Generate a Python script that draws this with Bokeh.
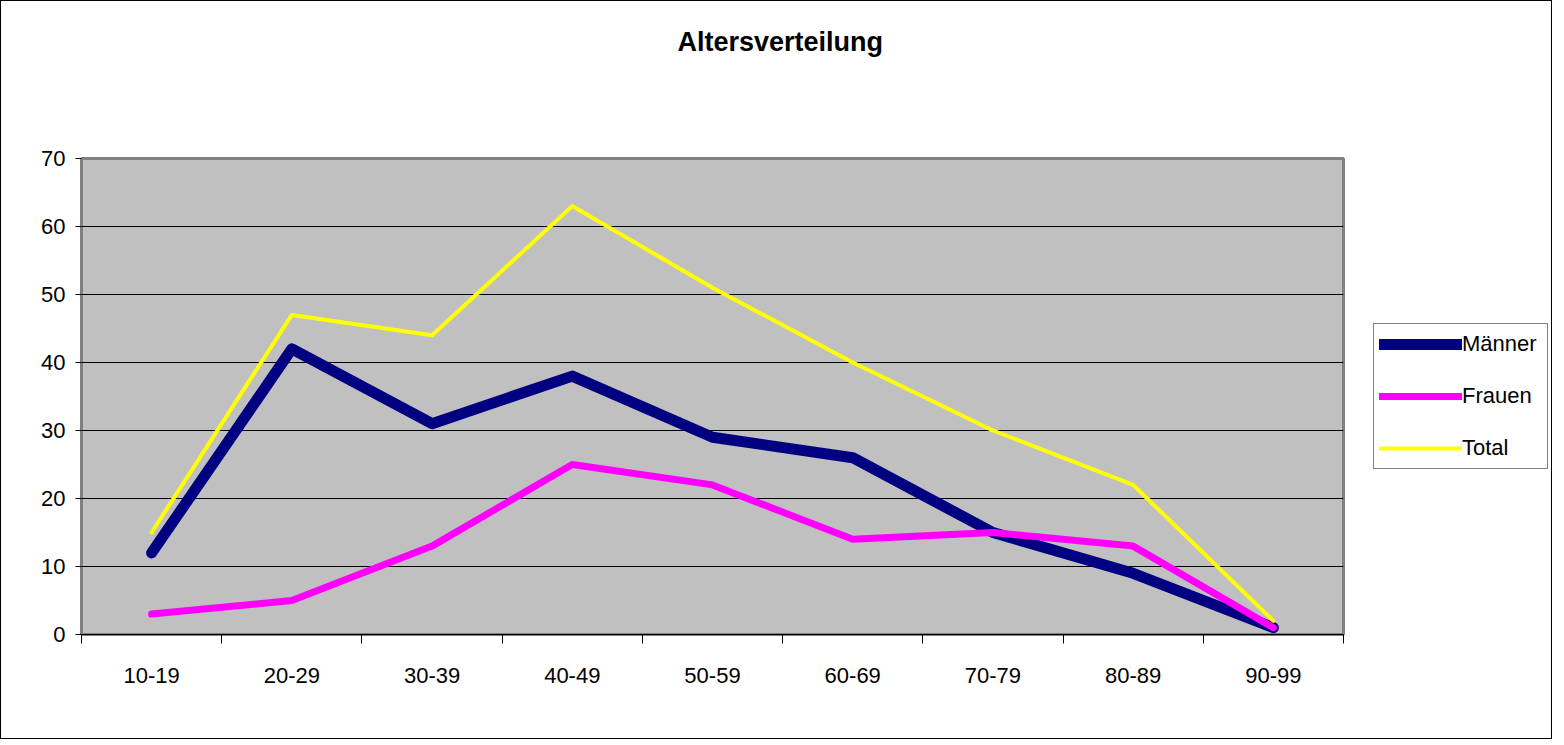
import numpy as np
from bokeh.plotting import figure
from bokeh.layouts import row
from bokeh.models import Range1d, FixedTicker, Legend, LegendItem, ColumnDataSource
from bokeh.embed import file_html
from bokeh.resources import INLINE

# ---- data ----
categories = ["10-19", "20-29", "30-39", "40-49", "50-59", "60-69", "70-79", "80-89", "90-99"]
maenner = [12, 42, 31, 38, 29, 26, 15, 9, 1]
frauen = [3, 5, 13, 25, 22, 14, 15, 13, 1]
total = [15, 47, 44, 63, 51, 40, 30, 22, 2]
y_ticks = [0, 10, 20, 30, 40, 50, 60, 70]
series_names = ["Männer", "Frauen", "Total"]
title_text = "Altersverteilung"

x_pos = [float(v) for v in (np.arange(len(categories)) + 0.5)]
source = ColumnDataSource(dict(x=x_pos, maenner=maenner, frauen=frauen, total=total))

FONT = "Liberation Sans"
STYLES = [dict(line_color="#000080", line_width=11),
          dict(line_color="#FF00FF", line_width=7),
          dict(line_color="#FFFF00", line_width=4)]

p = figure(width=1344, height=737, output_backend="svg", toolbar_location=None,
           x_range=Range1d(0, len(categories)), y_range=Range1d(y_ticks[0], y_ticks[-1]),
           min_border_left=80, min_border_right=2, min_border_top=157, min_border_bottom=104)

p.background_fill_color = "#C0C0C0"
p.border_fill_color = "white"
p.outline_line_color = "#808080"
p.outline_line_width = 3

# title (trailing blank lines lift it well above the frame)
p.title.text = title_text + "\n\n\n"
p.title.align = "left"
p.title.offset = 596
p.title.standoff = 24
p.title.text_font = FONT
p.title.text_font_size = "27px"
p.title.text_font_style = "bold"
p.title.text_color = "black"

# lines
for col, st in zip(["maenner", "frauen", "total"], STYLES):
    p.line("x", col, source=source, line_join="round", line_cap="round", **st)

# y axis
yax = p.yaxis[0]
yax.ticker = FixedTicker(ticks=y_ticks)
yax.axis_line_color = None
yax.major_tick_out = 6
yax.major_tick_in = 0
yax.minor_tick_out = 0
yax.minor_tick_in = 0
yax.major_tick_line_color = "black"
yax.major_label_standoff = 10
yax.major_label_text_font = FONT
yax.major_label_text_font_size = "22px"
yax.major_label_text_color = "black"

# x axis: labels at category centres, tick marks at category boundaries
xax = p.xaxis[0]
xax.ticker = FixedTicker(ticks=x_pos, minor_ticks=[float(v) for v in range(len(categories) + 1)])
xax.major_label_overrides = {xp: c for xp, c in zip(x_pos, categories)}
xax.axis_line_color = "black"
xax.axis_line_width = 1
xax.major_tick_out = 0
xax.major_tick_in = 0
xax.minor_tick_out = 9
xax.minor_tick_in = 0
xax.minor_tick_line_color = "black"
xax.major_label_standoff = 24
xax.major_label_text_font = FONT
xax.major_label_text_font_size = "22px"
xax.major_label_text_color = "black"

p.xgrid.visible = False
p.ygrid.ticker = FixedTicker(ticks=y_ticks)
p.ygrid.grid_line_color = "black"
p.ygrid.grid_line_width = 1

# legend panel (separate figure to the right of the chart)
q = figure(width=206, height=737, output_backend="svg", toolbar_location=None,
           x_axis_type=None, y_axis_type=None, min_border=0,
           x_range=Range1d(0, 1), y_range=Range1d(0, 1))
q.outline_line_color = None
q.border_fill_color = "white"
q.background_fill_color = "white"
items = []
for name, st in zip(series_names, STYLES):
    # legend-only helper renderer (no visible data)
    rr = q.line([float("nan")], [float("nan")], line_join="round", line_cap="round", **st)
    items.append(LegendItem(label=name, renderers=[rr]))

legend = Legend(items=items, location=(28, 165), orientation="vertical",
                border_line_color="black", border_line_width=1,
                background_fill_color="white", background_fill_alpha=1.0,
                label_text_font=FONT, label_text_font_size="22px", label_text_color="black",
                glyph_width=83, glyph_height=30, label_height=30, label_width=80,
                label_standoff=0, spacing=22, padding=5, margin=0)
q.add_layout(legend, "center")

layout = row(p, q)
layout.styles = {"border": "1px solid black"}

open("out.html", "w").write(file_html(layout, INLINE))
